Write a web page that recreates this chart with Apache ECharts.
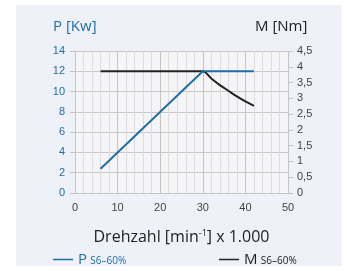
<!DOCTYPE html>
<html>
<head>
<meta charset="utf-8">
<script src="https://cdn.jsdelivr.net/npm/echarts@6/dist/echarts.min.js"></script>
<style>
html, body { margin: 0; padding: 0; background: #fff; }
#chart { width: 347px; height: 271px; }
</style>
</head>
<body>
<div id="chart"></div>
<script>
// values
var powerPoints = [[6, 2.4], [30, 12], [42, 12]];
var torquePoints = [[6, 3.86], [30, 3.86], [32, 3.63], [34, 3.42], [36, 3.24], [38, 3.06], [40, 2.9], [42, 2.76]];
var leftTicks = [0, 14, 2];
var rightTicks = [0, 4.5, 0.5];
var xTicks = [0, 50, 10];

var blue = '#1d6fa7';
var dark = '#222';
var labelFont = '"Liberation Sans Narrow", "Liberation Sans", sans-serif';
var titleFont = '"Open Sans", "Noto Sans", sans-serif';

var chart = echarts.init(document.getElementById('chart'));

function legendItem(name, color, left) {
    return {
        left: left, top: 247,
        icon: 'rect', itemWidth: 20, itemHeight: 1.5,
        data: [name],
        formatter: function (n) { return '{a|' + n + '} {b|S6–60%}'; },
        textStyle: {
            color: color,
            rich: {
                a: {fontSize: 15, color: color, fontFamily: titleFont},
                b: {fontSize: 10, color: color, fontFamily: titleFont, padding: [3, 0, 0, 0]}
            }
        }
    };
}

var option = {
    animation: false,
    graphic: [{
        type: 'rect',
        z: -10,
        shape: {x: 16, y: 5, width: 326, height: 261},
        style: {fill: '#eef1f8'}
    }],
    title: [{
        text: 'P [Kw]',
        left: 48, top: 14,
        textStyle: {color: blue, fontSize: 15, fontWeight: 'normal', fontFamily: titleFont}
    }, {
        text: 'M [Nm]',
        left: 250, top: 14,
        textStyle: {color: dark, fontSize: 15, fontWeight: 'normal', fontFamily: titleFont}
    }],
    legend: [legendItem('P', blue, 48), legendItem('M', dark, 214)],
    grid: {
        left: 75, right: 59, top: 51, bottom: 78,
        show: true, backgroundColor: '#f5f5f7', borderWidth: 0
    },
    xAxis: {
        type: 'value',
        min: xTicks[0], max: xTicks[1], interval: xTicks[2],
        name: '{t|Drehzahl [min}{s|-1}{t|] x 1.000}',
        nameLocation: 'middle', nameGap: 36,
        nameTextStyle: {
            rich: {
                t: {fontSize: 16, color: dark, fontFamily: titleFont},
                s: {fontSize: 9, color: dark, fontFamily: titleFont, verticalAlign: 'top', padding: [0, 0, 6, 0]}
            }
        },
        axisLine: {show: true, lineStyle: {color: '#c4c4c4'}},
        axisTick: {show: false},
        axisLabel: {color: '#444', fontSize: 11, fontFamily: labelFont, margin: 9},
        splitLine: {show: true, lineStyle: {color: '#c4c4c4'}},
        minorTick: {show: false, splitNumber: 5},
        minorSplitLine: {show: true, lineStyle: {color: '#dcdcdc'}}
    },
    yAxis: [{
        type: 'value',
        min: leftTicks[0], max: leftTicks[1], interval: leftTicks[2],
        axisLine: {show: false},
        axisTick: {show: true, length: 5, lineStyle: {color: '#c4c4c4'}},
        axisLabel: {color: blue, fontSize: 11, fontFamily: labelFont, margin: 10},
        splitLine: {show: true, lineStyle: {color: '#c8c8c8'}}
    }, {
        type: 'value',
        position: 'right',
        min: rightTicks[0], max: rightTicks[1], interval: rightTicks[2],
        axisLine: {show: false},
        axisTick: {show: true, length: 5, lineStyle: {color: '#c4c4c4'}},
        axisLabel: {
            color: '#444', fontSize: 11, fontFamily: labelFont, margin: 9,
            formatter: function (v) { return String(v).replace('.', ','); }
        },
        splitLine: {show: false}
    }],
    series: [{
        name: 'P',
        type: 'line',
        data: powerPoints,
        showSymbol: false,
        color: blue,
        lineStyle: {width: 2, color: blue},
        z: 3
    }, {
        name: 'M',
        type: 'line',
        yAxisIndex: 1,
        data: torquePoints,
        smooth: 0.3,
        showSymbol: false,
        color: dark,
        lineStyle: {width: 2, color: dark},
        z: 2
    }]
};

chart.setOption(option);
</script>
</body>
</html>
